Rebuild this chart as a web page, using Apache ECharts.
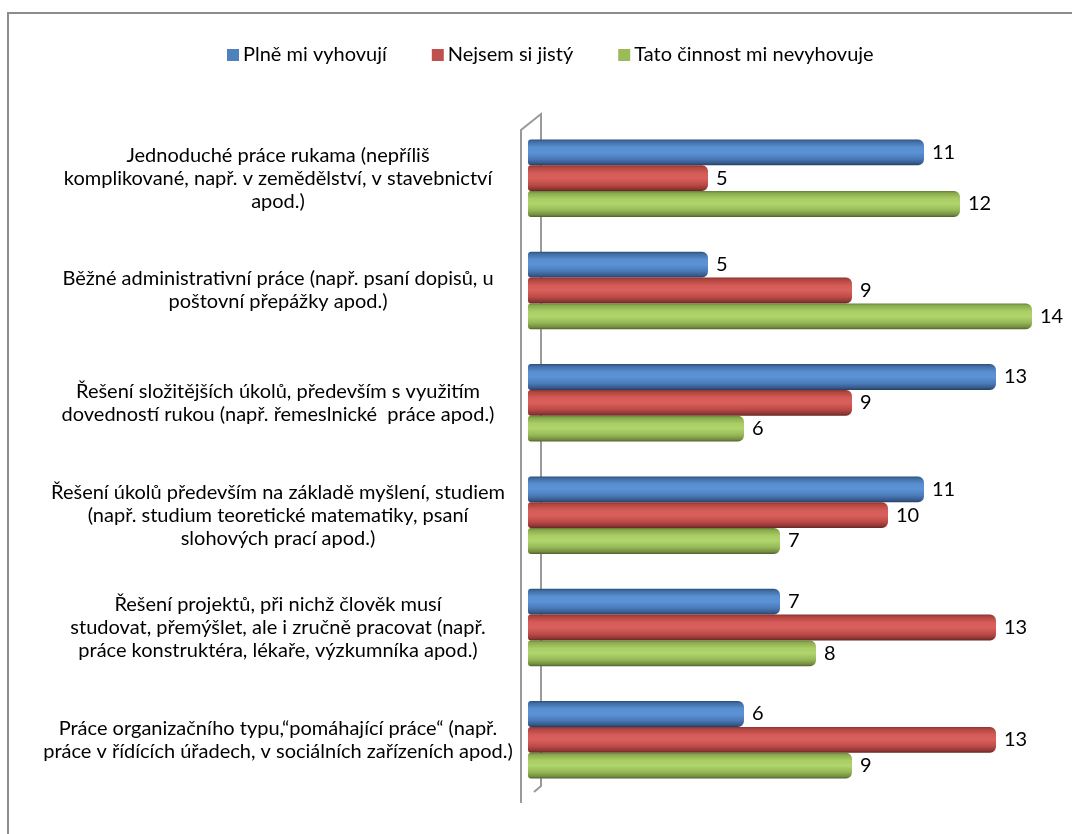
<!DOCTYPE html>
<html><head><meta charset="utf-8">
<script src="https://cdn.jsdelivr.net/npm/echarts@6/dist/echarts.min.js"></script>
<style>html,body{margin:0;padding:0;background:#fff}#c{width:1072px;height:834px}</style>
</head><body><div id="c"></div>
<script>
const categories = [
  'Jednoduché práce rukama (nepříliš\nkomplikované, např. v zemědělství, v stavebnictví\napod.)',
  'Běžné administrativní práce (např. psaní dopisů, u\npoštovní přepážky apod.)',
  'Řešení složitějších úkolů, především s využitím\ndovedností rukou (např. řemeslnické  práce apod.)',
  'Řešení úkolů především na základě myšlení, studiem\n(např. studium teoretické matematiky, psaní\nslohových prací apod.)',
  'Řešení projektů, při nichž člověk musí\nstudovat, přemýšlet, ale i zručně pracovat (např.\npráce konstruktéra, lékaře, výzkumníka apod.)',
  'Práce organizačního typu,“pomáhající práce“ (např.\npráce v řídících úřadech, v sociálních zařízeních apod.)'
];
const seriesNames = ['Plně mi vyhovují', 'Nejsem si jistý', 'Tato činnost mi nevyhovuje'];
const fullySuits = [11, 5, 13, 11, 7, 6];
const notSure = [5, 9, 9, 10, 13, 13];
const doesNotSuit = [12, 14, 6, 7, 8, 9];

const FONT = 'Lato';
function grad(stops) {
  return new echarts.graphic.LinearGradient(0, 0, 0, 1, stops.map((c) => ({offset: c[0], color: c[1]})));
}
const blueG = grad([[0,'#2c4d75'],[0.08,'#3f6ca4'],[0.3,'#5a8fd0'],[0.5,'#5b93d6'],[0.75,'#4a7ab8'],[0.92,'#36598a'],[1,'#243f60']]);
const redG = grad([[0,'#8a3230'],[0.08,'#b0443f'],[0.3,'#d45b57'],[0.5,'#da605c'],[0.75,'#bd4b47'],[0.92,'#8f3634'],[1,'#632523']]);
const greenG = grad([[0,'#66803a'],[0.08,'#8aaa4c'],[0.3,'#aacd66'],[0.5,'#b0d56c'],[0.75,'#97b757'],[0.92,'#728d3f'],[1,'#4f6229']]);
const legendColors = ['#4f81bd', '#c0504d', '#9bbb59'];

function mkSeries(name, data, fill) {
  return {
    name: name, type: 'bar', data: data,
    barGap: '0%', barCategoryGap: '31%',
    itemStyle: {color: fill, borderRadius: [3, 6, 6, 3]},
    label: {show: true, position: 'right', distance: 8, color: '#000', fontFamily: FONT, fontSize: 20},
    emphasis: {disabled: true}
  };
}

const chart = echarts.init(document.getElementById('c'), null, {renderer: 'canvas'});
chart.setOption({
  animation: false,
  backgroundColor: '#fff',
  color: legendColors,
  legend: {
    left: 222, top: 40, itemWidth: 12, itemHeight: 12, itemGap: 45, icon: 'rect',
    textStyle: {fontFamily: FONT, fontSize: 20, color: '#000', padding: [0, 0, 0, -1]},
    data: seriesNames.map((n, i) => ({name: n, itemStyle: {color: legendColors[i]}}))
  },
  grid: {left: 528, right: 40, top: 122, bottom: 38, containLabel: false},
  xAxis: {type: 'value', min: 0, max: 14, show: false, splitLine: {show: false}},
  yAxis: {
    type: 'category', data: categories, inverse: true,
    axisLine: {show: false}, axisTick: {show: false},
    axisLabel: {fontFamily: FONT, fontSize: 20, color: '#000', lineHeight: 23, align: 'center', margin: 250, padding: [12, 0, 0, 0]}
  },
  graphic: [
    {type: 'rect', z: 0, shape: {x: 8, y: 13, width: 1200, height: 1000}, style: {fill: 'none', stroke: '#8c8c8c', lineWidth: 2}},
    {type: 'polyline', z: 0, shape: {points: [[521, 803], [521, 130], [541, 114], [541, 786], [534, 792]]}, style: {fill: 'none', stroke: '#9a9a9a', lineWidth: 2}}
  ],
  series: [
    mkSeries(seriesNames[0], fullySuits, blueG),
    mkSeries(seriesNames[1], notSure, redG),
    mkSeries(seriesNames[2], doesNotSuit, greenG)
  ]
});
</script></body></html>
